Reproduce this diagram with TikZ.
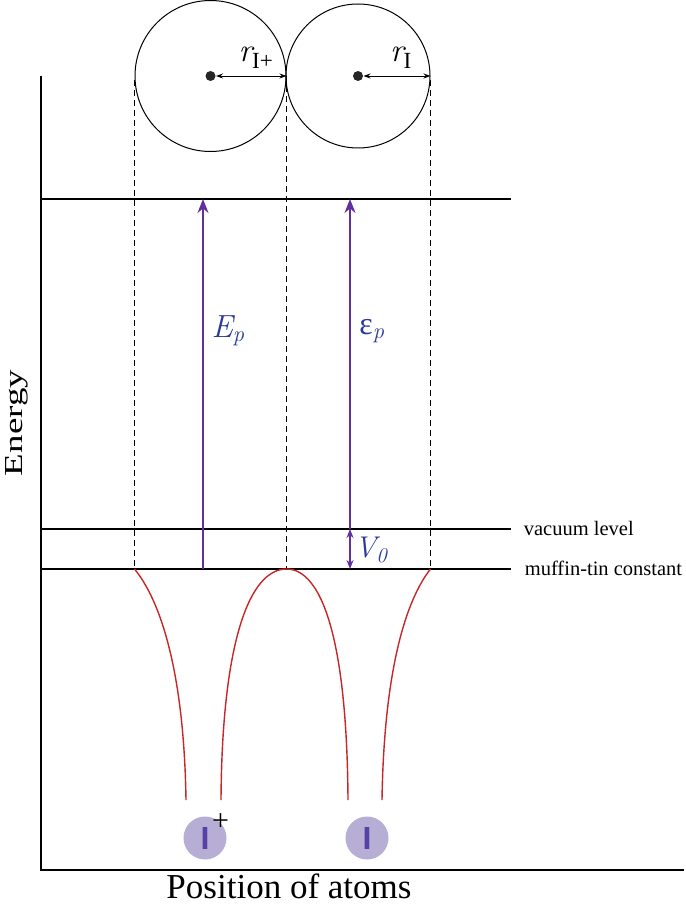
\documentclass[tikz,border=0pt]{standalone}
\usepackage{fontspec}
\setmainfont{Liberation Serif}
\newfontfamily\itfont{Latin Modern Roman}
\newfontfamily\ionfont{Liberation Sans Bold}
\usetikzlibrary{arrows.meta,positioning}
\definecolor{arrowpurple}{RGB}{98,48,158}
\definecolor{labelblue}{RGB}{42,58,150}
\definecolor{wellred}{RGB}{200,38,38}
\definecolor{ionfill}{RGB}{182,174,212}
\definecolor{ionbar}{RGB}{86,66,166}

\begin{document}
\begin{tikzpicture}[x=1pt,y=-1pt,line width=1pt,
  axis/.style={line width=1.5pt},
  level/.style={line width=1.7pt},
  guide/.style={dash pattern=on 6pt off 4pt,line width=0.8pt},
  shell/.style={draw,circle,line width=1pt,inner sep=0pt},
  centre/.style={circle,fill=black!85,minimum size=10pt,inner sep=0pt},
  radius arrow/.style={line width=0.9pt,{Stealth[length=7pt,width=5pt]}-{Stealth[length=7pt,width=5pt]}},
  energy/.style={arrowpurple,line width=1.7pt,-{Stealth[length=14pt,width=11pt]}},
  well/.style={wellred,line width=1.4pt},
  ion/.style={circle,fill=ionfill,minimum size=43pt,inner sep=0pt,text=ionbar,
    font=\ionfont\fontsize{32}{32}\selectfont},
  lab/.style={font=\fontsize{20.5}{21}\selectfont,anchor=base west},
  sym/.style={text=labelblue,font=\itfont\itshape\fontsize{32}{32}\selectfont}]

\useasboundingbox (0,0) rectangle (685,904);

% levels and axes
\coordinate (yend)   at (41,76);
\coordinate (origin) at (41,870);
\coordinate (xend)   at (684,870);
\coordinate (top0) at (41,199);  \coordinate (top1) at (511,199);
\coordinate (vac0) at (41,529);  \coordinate (vac1) at (511,529);
\coordinate (mt0)  at (41,569);  \coordinate (mt1)  at (511,569);

\draw[axis] (yend) -- (origin) -- (xend);
\draw[level] (top0) -- (top1);
\draw[level] (vac0) -- (vac1);
\draw[level] (mt0) -- (mt1);

\node[lab] (vaclabel) at (520,535) {vacuum level};
\node[lab] (mtlabel)  at (521,575) {muffin-tin constant};

\node[rotate=90,anchor=base,font=\fontsize{37}{37}\selectfont] (ylabel) at (23,423) {\scalebox{1}[0.7]{Energy}};
\node[anchor=base,font=\fontsize{35}{35}\selectfont] (xlabel) at (289,898) {Position of atoms};

% atomic spheres
\node[shell,minimum size=151pt] (cation) at (210.5,76) {};
\node[shell,minimum size=144pt] (anion)  at (358,76) {};
\node[centre] (cationdot) at (cation.center) {};
\node[centre] (aniondot)  at (anion.center) {};

\draw[radius arrow] (cationdot) -- (cation.east);
\draw[radius arrow] (aniondot) -- (anion.east);
\node[font=\fontsize{33}{33}\selectfont] (rcation) at (256,58) {{\itfont\itshape r}\textsubscript{I+}};
\node[font=\fontsize{33}{33}\selectfont] (ranion)  at (401,58) {{\itfont\itshape r}\textsubscript{I}};

\draw[guide] ([yshift=-4pt]cation.west) -- (cation.west |- mt0);
\draw[guide] (cation.east) -- (cation.east |- mt0);
\draw[guide] ([yshift=-4pt]anion.east) -- (anion.east |- mt0);

% energies
\coordinate (Ep0) at (203,569);
\coordinate (ep0) at (350,529);
\draw[energy] (Ep0) -- (Ep0 |- top0);
\draw[energy] (ep0) -- (ep0 |- top0);
\draw[arrowpurple,line width=1.5pt,{Stealth[length=9pt,width=7pt]}-{Stealth[length=9pt,width=7pt]}] (ep0) -- (ep0 |- mt0);

\node[sym] (Eplabel) at (228,331) {E\textsubscript{p}};
\node[sym] (eplabel) at (372,331) {{\normalfont ε}\textsubscript{p}};
\node[sym,font=\itfont\itshape\fontsize{30}{30}\selectfont] (Vlabel) at (371,550) {V\textsubscript{0}};

% potential wells
\coordinate (w1) at (186,800);
\coordinate (w2) at (221,800);
\coordinate (w3) at (348,800);
\coordinate (w4) at (382,800);
\draw[well] (cation.west |- mt0) .. controls (160,600) and (184,670) .. (w1);
\draw[well] (w2) .. controls (222,640) and (250,569) .. (cation.east |- mt0)
  .. controls (322,569) and (347,640) .. (w3);
\draw[well] (w4) .. controls (384,670) and (406,600) .. (anion.east |- mt0);

% ions
\node[ion] (cation ion) at (205,838) {I};
\node[ion] (anion ion)  at (367,838) {I};
\node[font=\fontsize{30}{30}\selectfont] (plus) at (cation ion.north east) {+};

\end{tikzpicture}
\end{document}
